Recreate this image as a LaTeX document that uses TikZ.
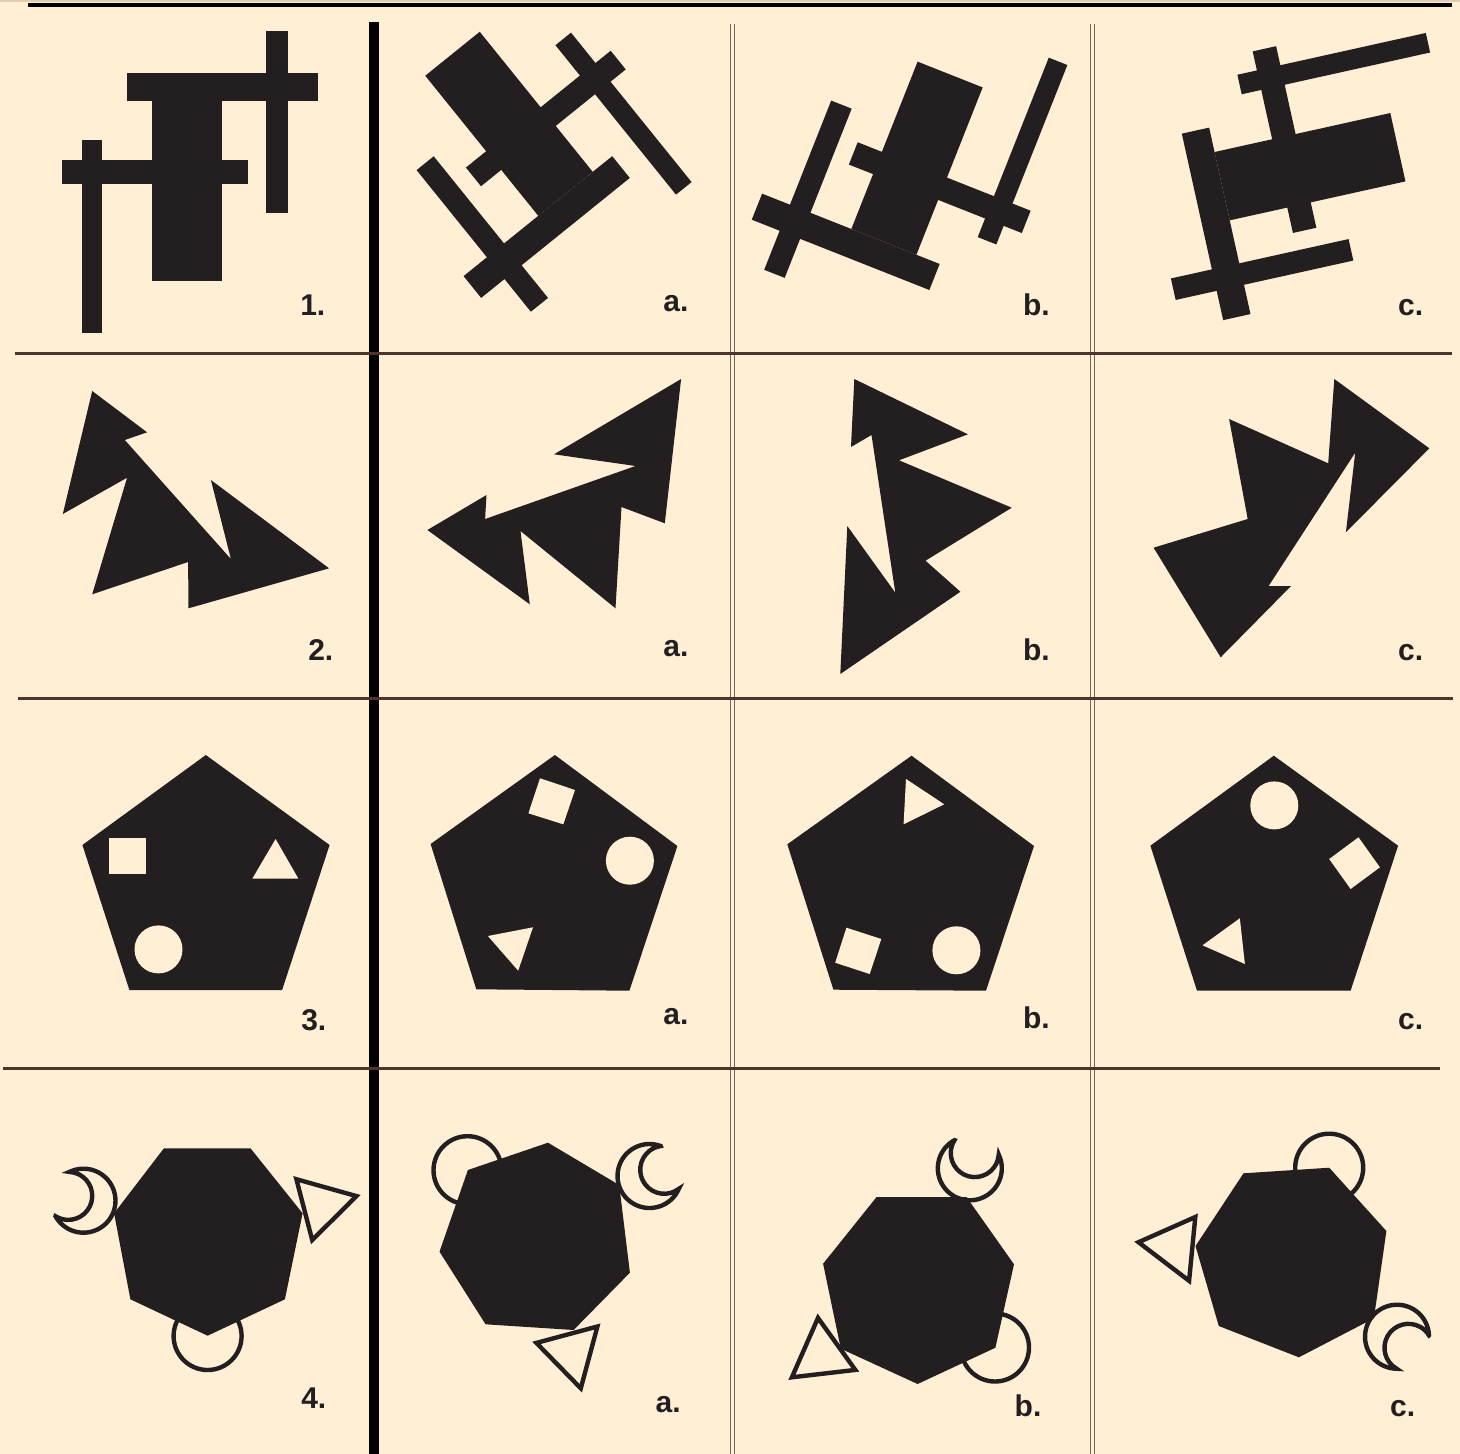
\documentclass[tikz,border=0pt]{standalone}
\usepackage{fontspec}
\setmainfont{Liberation Sans}
\definecolor{bg}{HTML}{FFEFD5}
\definecolor{ink}{HTML}{231F20}
\definecolor{rulebrown}{HTML}{4E342A}
\definecolor{dblgrey}{HTML}{7A6858}
\definecolor{tanband}{HTML}{E2CDB0}
\tikzset{
  solidfig/.style={fill=ink},
  hole/.style={fill=bg},
  outl/.style={draw=ink, line width=4.4, line join=miter, miter limit=25},
  lbl/.style={font=\fontsize{30}{30}\selectfont\bfseries, text=ink, inner sep=0pt, anchor=base east},
  hrule/.style={draw=rulebrown, line width=3},
  dblrule/.style={draw=dblgrey, line width=1.3},
}
% #1,#2: vertical extent of the left long bar
\newcommand\figone[2]{%
  \fill[solidfig] (-35,-90) rectangle (35,90);
  \fill[solidfig] (-60,-118) rectangle (131,-90);
  \fill[solidfig] (79,-160) rectangle (101,22);
  \fill[solidfig] (-125,-31) rectangle (61,-7);
  \fill[solidfig] (-105.5,#1) rectangle (-85.5,#2);
}
\newcommand\crescentpath{%
  \draw[outl] (22,-23.24) arc[start angle=-46.6, end angle=-313.4, radius=32]
    arc[start angle=75.5, end angle=284.5, radius=24] -- cycle;
}
\begin{document}
\begin{tikzpicture}[x=1pt,y=-1pt]
\useasboundingbox (0,0) rectangle (1460,1454);
\fill[bg] (0,0) rectangle (1460,1454);
\fill[tanband] (0,0) rectangle (1460,2);

% ---------- Row 1 ----------
\begin{scope}[shift={(187,191)}]\figone{-51}{142}\end{scope}
\begin{scope}[shift={(509,123.8)}, rotate=-141.1]\figone{-160}{32}\end{scope}
\begin{scope}[shift={(917,158.2)}, rotate=158.4]\figone{-51}{142}\end{scope}
\begin{scope}[shift={(1310,166.7)}, rotate=102.5, xscale=-1]\figone{-51}{142}\end{scope}

% ---------- Row 2 ----------
\fill[solidfig] (92.2,391) -- (147.1,432.3) -- (124.8,440) -- (230.9,559) -- (210.9,480) -- (329.1,568.3) -- (188.5,608.3) -- (188.1,562) -- (92.2,594.3) -- (127.1,477.7) -- (62.8,514) -- cycle;
\fill[solidfig] (681.1,379) -- (664.8,523.3) -- (621.5,507) -- (615.5,608.3) -- (520.5,531) -- (529.8,604.3) -- (427.4,530) -- (486.5,495) -- (485.1,519) -- (635.5,466) -- (554,454.3) -- cycle;
\fill[solidfig] (854.3,379) -- (967.9,434.3) -- (899,460.3) -- (1011.7,507.7) -- (925.5,560.7) -- (960.4,591.7) -- (840.3,674) -- (847.3,526) -- (895.3,592.7) -- (871.5,435) -- (851,447) -- cycle;
\fill[solidfig] (1334.3,379) -- (1429.3,448.3) -- (1345.9,532.3) -- (1355.2,452.7) -- (1268.6,586) -- (1291,586) -- (1220.7,657.3) -- (1153.6,547.7) -- (1247.7,519) -- (1229.1,419) -- (1328.2,463.3) -- cycle;

% ---------- Row 3 ----------
\fill[solidfig] (205.8,755) -- (329.6,845) -- (282.1,990) -- (129.4,990) -- (82.4,845) -- cycle;
\fill[hole] (108.9,837.7) rectangle (146.2,874.3);
\fill[hole] (275.6,839) -- (298.4,878.7) -- (252.3,878.7) -- cycle;
\fill[hole] (158.5,949.4) circle[radius=24];

\fill[solidfig] (554.9,755) -- (677.4,846) -- (629.4,990.7) -- (476.3,989.3) -- (430.6,844) -- cycle;
\fill[hole] (540,778.3) -- (575,790) -- (563.3,824.3) -- (528.4,813.3) -- cycle;
\fill[hole] (629.9,860.7) circle[radius=24];
\fill[hole] (487.9,936) -- (533,927.3) -- (518.2,970.7) -- cycle;

\fill[solidfig] (911.6,755.7) -- (1034,846) -- (986,990.7) -- (833.4,989.7) -- (787.3,844.3) -- cycle;
\fill[hole] (906,779) -- (944.2,804.3) -- (903.6,824.3) -- cycle;
\fill[hole] (846.4,927.7) -- (881.3,939) -- (869.7,974) -- (835.2,962.7) -- cycle;
\fill[hole] (956.4,950.3) circle[radius=24];

\fill[solidfig] (1273.8,755.7) -- (1398.1,845.7) -- (1350.6,990.7) -- (1197,990.7) -- (1150.4,845.7) -- cycle;
\fill[hole] (1274.3,805.4) circle[radius=24];
\fill[hole] (1358.5,837.3) -- (1379.9,867.3) -- (1350.6,889) -- (1329.2,859) -- cycle;
\fill[hole] (1239.8,918.3) -- (1244.9,964) -- (1202.5,945.3) -- cycle;

% ---------- Row 4 ----------
\draw[outl] (207.6,1336) circle[radius=34];
\begin{scope}[shift={(83.5,1200.7)}, rotate=-197.5]\crescentpath\end{scope}
\draw[outl] (296.4,1179.2) -- (356.5,1196.1) -- (312.2,1240) -- cycle;
\fill[solidfig] (163.9,1148.3) -- (250.5,1148.3) -- (302.6,1213.3) -- (284.9,1299.3) -- (207.6,1335.7) -- (130.4,1299.3) -- (114.1,1213.3) -- cycle;

\draw[outl] (467.5,1170.2) circle[radius=34];
\begin{scope}[shift={(649.5,1176)}, rotate=23]\crescentpath\end{scope}
\draw[outl] (536.4,1342.9) -- (597.4,1326.5) -- (580.8,1388.3) -- cycle;
\fill[solidfig] (548,1142.7) -- (619.2,1185) -- (629.9,1272.7) -- (573.6,1330) -- (485.6,1324.3) -- (439.5,1251.7) -- (467.9,1170) -- cycle;

\draw[outl] (995,1347.5) circle[radius=34];
\begin{scope}[shift={(969.8,1168.3)}, rotate=72]\crescentpath\end{scope}
\draw[outl] (818,1317.9) -- (855.3,1369.9) -- (791.9,1377.3) -- cycle;
\fill[solidfig] (876.6,1197) -- (966.5,1197) -- (1014,1264.3) -- (995.4,1347.7) -- (917.6,1384) -- (840.8,1348.7) -- (823.1,1263.7) -- cycle;

\draw[outl] (1329.2,1167.7) circle[radius=34];
\begin{scope}[shift={(1397,1336.7)}, rotate=-44]\crescentpath\end{scope}
\draw[outl] (1195.3,1217) -- (1189.1,1280.8) -- (1138.5,1242.2) -- cycle;
\fill[solidfig] (1243.5,1173.3) -- (1329.2,1167.7) -- (1386.4,1231) -- (1373.9,1318.3) -- (1298.9,1357.3) -- (1218.8,1326) -- (1195.5,1246) -- cycle;

% ---------- Grid ----------
\draw[black, line width=3.4] (28,5) -- (1452,5);
\draw[dblrule] (730.8,24) -- (730.8,1454);
\draw[dblrule] (734.5,24) -- (734.5,1454);
\draw[dblrule] (1090.2,24) -- (1090.2,1454);
\draw[dblrule] (1094.3,24) -- (1094.3,1454);
\draw[black, line width=10] (373.5,22) -- (373.5,1454);
\draw[hrule] (15,353.7) -- (1452,353.7);
\draw[hrule] (18,698) -- (1453,698);
\draw[hrule] (3,1068.3) -- (1440,1068.3);

% ---------- Labels ----------
\node[lbl] (n1)  at (325.5,315) {1.};
\node[lbl] (n1a) at (688.7,311.7) {a.};
\node[lbl] (n1b) at (1050,315) {b.};
\node[lbl] (n1c) at (1423.3,315) {c.};
\node[lbl] (n2)  at (333.5,660) {2.};
\node[lbl] (n2a) at (688.7,656.7) {a.};
\node[lbl] (n2b) at (1050,660) {b.};
\node[lbl] (n2c) at (1423.3,660) {c.};
\node[lbl] (n3)  at (326.5,1030) {3.};
\node[lbl] (n3a) at (688.7,1024) {a.};
\node[lbl] (n3b) at (1050,1028.3) {b.};
\node[lbl] (n3c) at (1423.3,1029) {c.};
\node[lbl] (n4)  at (326.5,1408.3) {4.};
\node[lbl] (n4a) at (680.8,1412.7) {a.};
\node[lbl] (n4b) at (1041.6,1416.7) {b.};
\node[lbl] (n4c) at (1415.4,1416.7) {c.};
\end{tikzpicture}
\end{document}
